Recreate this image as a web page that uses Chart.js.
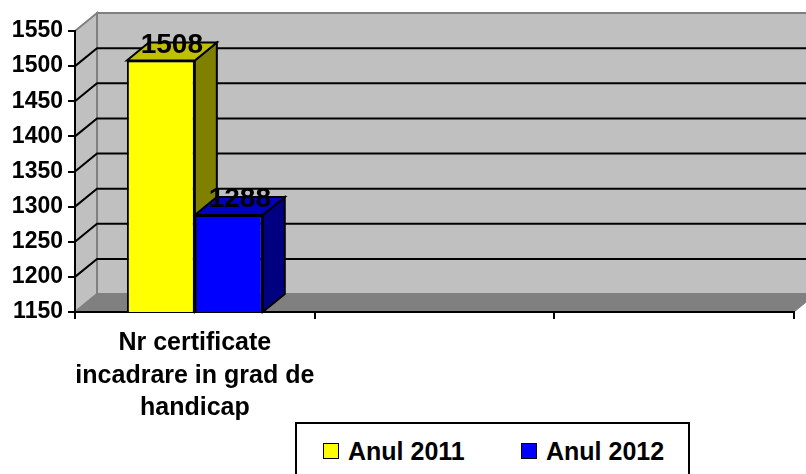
<!DOCTYPE html>
<html>
<head>
<meta charset="utf-8">
<script src="https://cdn.jsdelivr.net/npm/chart.js@4/dist/chart.umd.min.js"></script>
<style>
  html, body { margin: 0; padding: 0; background: #fff; overflow: hidden; }
  #ramme { position: relative; width: 806px; height: 474px; }
  #legende {
    position: absolute; left: 295px; top: 422px; width: 395px; height: 70px;
    border: 2px solid #000; box-sizing: border-box; background: #fff;
    font: bold 25px "Liberation Sans", Arial, sans-serif; color: #000;
  }
  .post { position: absolute; top: 15px; height: 24px; display: flex; align-items: center; white-space: nowrap; }
  .kasse { width: 14px; height: 14px; border: 1.5px solid #000; margin-right: 9px; }
</style>
</head>
<body>
<div id="ramme">
  <canvas id="graf" width="806" height="474"></canvas>
  <div id="legende"></div>
</div>
<script>
/* data */
const kategorier = [['Nr certificate', 'incadrare in grad de', 'handicap'], '', ''];
const serieNavne = ['Anul 2011', 'Anul 2012'];
const vaerdier2011 = [1508, null, null];
const vaerdier2012 = [1288, null, null];
const yMin = 1150;
const yMax = 1550;
const yTrin = 50;

/* farver: forside, side, top */
const farver = [
    { front: '#ffff00', side: '#808000', top: '#c0c000' },
    { front: '#0000ff', side: '#000080', top: '#0000c0' }
];

const FONT = '"Liberation Sans", Arial, sans-serif';
const DX = 22;   /* 3D dybde vandret */
const DY = -18;  /* 3D dybde lodret */

function polygon(ctx, punkter, fyld, streg, bredde) {
    ctx.beginPath();
    ctx.moveTo(punkter[0][0], punkter[0][1]);
    for (let i = 1; i < punkter.length; i++) ctx.lineTo(punkter[i][0], punkter[i][1]);
    ctx.closePath();
    if (fyld) { ctx.fillStyle = fyld; ctx.fill(); }
    if (streg) { ctx.strokeStyle = streg; ctx.lineWidth = bredde; ctx.stroke(); }
}

/* tegner bagvæg, sidevæg, gulv og gitterlinjer i 3D før akserne */
const vaegPlugin = {
    id: 'vaegge',
    beforeDraw(chart) {
        const ctx = chart.ctx;
        const a = chart.chartArea;
        const y = chart.scales.y;
        const top = y.getPixelForValue(yMax);
        const bund = y.getPixelForValue(yMin);
        ctx.save();
        /* bagvæg */
        polygon(ctx, [[a.left + DX, top + DY], [a.right + DX, top + DY], [a.right + DX, bund + DY], [a.left + DX, bund + DY]], '#c0c0c0', '#808080', 2);
        /* venstre sidevæg */
        polygon(ctx, [[a.left, top], [a.left + DX, top + DY], [a.left + DX, bund + DY], [a.left, bund]], '#c0c0c0', '#808080', 2);
        /* gulv */
        polygon(ctx, [[a.left, bund], [a.left + DX, bund + DY], [a.right + DX, bund + DY], [a.right, bund]], '#808080', '#808080', 1);
        /* gitterlinjer langs sidevæg og bagvæg */
        ctx.strokeStyle = '#000';
        ctx.lineWidth = 2;
        for (let v = yMin + yTrin; v < yMax; v += yTrin) {
            const py = y.getPixelForValue(v);
            ctx.beginPath();
            ctx.moveTo(a.left, py);
            ctx.lineTo(a.left + DX, py + DY);
            ctx.lineTo(a.right + DX, py + DY);
            ctx.stroke();
        }
        ctx.restore();
    },
    /* side- og topflader tegnes før forsiderne, så forsiderne dækker dem korrekt */
    beforeDatasetsDraw(chart) {
        const ctx = chart.ctx;
        const bundPx = chart.scales.y.getPixelForValue(yMin);
        ctx.save();
        chart.data.datasets.forEach((ds, i) => {
            const meta = chart.getDatasetMeta(i);
            meta.data.forEach((bar, j) => {
                if (ds.data[j] == null) return;
                const p = bar.getProps(['x', 'y', 'base', 'width'], true);
                /* søjlen starter ved 0, så basen klippes til aksens minimum */
                const base = Math.min(p.base, bundPx);
                const v = p.x - p.width / 2;
                const h = p.x + p.width / 2;
                polygon(ctx, [[h, p.y], [h + DX, p.y + DY], [h + DX, base + DY], [h, base]], farver[i].side, '#000', 2);
                polygon(ctx, [[v, p.y], [v + DX, p.y + DY], [h + DX, p.y + DY], [h, p.y]], farver[i].top, '#000', 2);
            });
        });
        ctx.restore();
    },
    /* værdietiketter over søjlerne */
    afterDatasetsDraw(chart) {
        const ctx = chart.ctx;
        ctx.save();
        ctx.font = 'bold 28px ' + FONT;
        ctx.fillStyle = '#000';
        ctx.textAlign = 'center';
        ctx.textBaseline = 'alphabetic';
        chart.data.datasets.forEach((ds, i) => {
            chart.getDatasetMeta(i).data.forEach((bar, j) => {
                if (ds.data[j] == null) return;
                ctx.fillText(String(ds.data[j]), bar.x + DX / 2, bar.y - 8);
            });
        });
        ctx.restore();
    }
};

new Chart(document.getElementById('graf'), {
    type: 'bar',
    data: {
        labels: kategorier,
        datasets: [
            {
                label: serieNavne[0],
                data: vaerdier2011,
                backgroundColor: farver[0].front,
                borderColor: '#000',
                borderWidth: 2,
                borderSkipped: false
            },
            {
                label: serieNavne[1],
                data: vaerdier2012,
                backgroundColor: farver[1].front,
                borderColor: '#000',
                borderWidth: 2,
                borderSkipped: false
            }
        ]
    },
    options: {
        responsive: false,
        animation: false,
        devicePixelRatio: 1,
        layout: { padding: { top: 31, right: 12, left: 0, bottom: 0 } },
        datasets: { bar: { categoryPercentage: 0.567, barPercentage: 1 } },
        plugins: {
            legend: { display: false },
            tooltip: { enabled: false }
        },
        scales: {
            x: {
                grid: { drawOnChartArea: false, drawTicks: true, tickLength: 7, color: '#000', lineWidth: 2, offset: true },
                border: { display: true, color: '#000', width: 2 },
                ticks: {
                    color: '#000',
                    font: { family: FONT, size: 25, weight: 'bold', lineHeight: 1.3 },
                    maxRotation: 0,
                    autoSkip: false,
                    padding: 8
                },
                afterFit: (s) => { s.height = 162; }
            },
            y: {
                min: yMin,
                max: yMax,
                grid: { drawOnChartArea: false, drawTicks: true, tickLength: 7, color: '#000', lineWidth: 2 },
                border: { display: true, color: '#000', width: 2 },
                ticks: {
                    stepSize: yTrin,
                    color: '#000',
                    font: { family: FONT, size: 23, weight: 'bold' },
                    padding: 5,
                    callback: (val) => String(val)
                },
                afterFit: (s) => { s.width = 75; }
            }
        }
    },
    plugins: [vaegPlugin]
});

/* legende bygget fra serierne */
const legende = document.getElementById('legende');
const venstre = [26, 224];
for (let i = 0; i < serieNavne.length; i++) {
    const post = document.createElement('div');
    post.className = 'post';
    post.style.left = venstre[i] + 'px';
    post.innerHTML = '<span class="kasse" style="background:' + farver[i].front + '"></span>' + serieNavne[i];
    legende.appendChild(post);
}
</script>
</body>
</html>
